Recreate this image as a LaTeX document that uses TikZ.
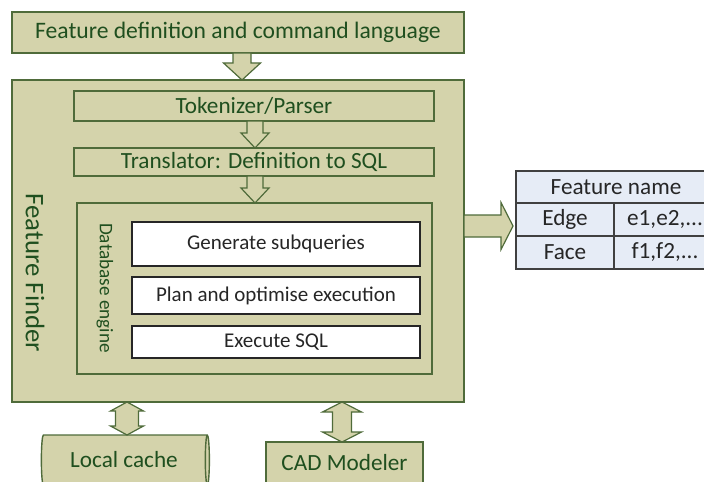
\documentclass[tikz,border=0pt]{standalone}
\usepackage{fontspec}
\setmainfont{Carlito}
\usetikzlibrary{shapes.geometric}
\usetikzlibrary{calc}

\definecolor{olivefill}{HTML}{D4D3AB}
\definecolor{oliveline}{HTML}{4F6B3A}
\definecolor{olivetext}{HTML}{1F4F1F}
\definecolor{tablefill}{HTML}{E6ECF6}
\definecolor{darktext}{HTML}{262626}

% fat arrows: #1 start, #2 end, #3 half shaft, #4 half head, #5 head length
\newcommand{\fatdown}[5]{%
  \draw[fatarrow] let \p1=(#1), \p2=(#2) in
    (\x1-#3,\y1) -- (\x1-#3,\y2+#5) -- (\x1-#4,\y2+#5) -- (\x1,\y2)
    -- (\x1+#4,\y2+#5) -- (\x1+#3,\y2+#5) -- (\x1+#3,\y1) -- cycle;}
\newcommand{\fatboth}[5]{%
  \draw[fatarrow] let \p1=(#1), \p2=(#2) in
    (\x1,\y1) -- (\x1+#4,\y1-#5) -- (\x1+#3,\y1-#5) -- (\x1+#3,\y2+#5)
    -- (\x1+#4,\y2+#5) -- (\x1,\y2) -- (\x1-#4,\y2+#5) -- (\x1-#3,\y2+#5)
    -- (\x1-#3,\y1-#5) -- (\x1-#4,\y1-#5) -- cycle;}
\newcommand{\fatright}[5]{%
  \draw[fatarrow] let \p1=(#1), \p2=(#2) in
    (\x1,\y1-#3) -- (\x2-#5,\y1-#3) -- (\x2-#5,\y1-#4) -- (\x2,\y1)
    -- (\x2-#5,\y1+#4) -- (\x2-#5,\y1+#3) -- (\x1,\y1+#3) -- cycle;}

\begin{document}
\begin{tikzpicture}[x=0.5pt,y=-0.5pt]
\tikzstyle{olivebox}=[rectangle, draw=oliveline, fill=olivefill, line width=0.7pt, text=olivetext, inner sep=0pt, outer sep=0pt, font=\fontsize{11.6}{13}\selectfont]
\tikzstyle{stepbox}=[rectangle, draw=black!85, fill=white, line width=0.6pt, text=darktext, font=\fontsize{10.5}{12}\selectfont, minimum width=144pt, inner sep=0pt, outer sep=0pt]
\tikzstyle{cell}=[rectangle, draw=black!75, fill=tablefill, line width=0.6pt, text=darktext, font=\fontsize{11.6}{13}\selectfont, inner sep=0pt, outer sep=0pt, minimum height=16.5pt]
\tikzstyle{fatarrow}=[draw=oliveline, fill=olivefill, line width=0.6pt, line join=miter]
\useasboundingbox (0,0) rectangle (704,481);
\clip (0,0) rectangle (704,481);

% input and main block
\node[olivebox, minimum width=226pt, minimum height=20.5pt, font=\fontsize{11.8}{13}\selectfont] (lang) at (238,32.5) {Feature definition and command language};
\node[olivebox, minimum width=226pt, minimum height=161pt] (finder) at (238,241) {};
\node[text=olivetext, rotate=-90, font=\fontsize{13.4}{15}\selectfont] (finderlabel) at (35,273) {Feature Finder};

\node[olivebox, minimum width=180pt, minimum height=15pt] (tok) at (254,106) {Tokenizer/Parser};
\node[olivebox, minimum width=180pt, minimum height=14pt] (trans) at (254,162) {Translator: Definition to SQL};

% database engine
\node[olivebox, minimum width=177.5pt, minimum height=85.5pt] (db) at (254.5,288.5) {};
\node[text=olivetext, rotate=-90, font=\fontsize{9.6}{11}\selectfont] (dblabel) at (105,288) {Database engine};
\node[stepbox, minimum height=22pt] (gen) at (276,244) {Generate subqueries};
\node[stepbox, minimum height=18.5pt] (plan) at (276,295.5) {Plan and optimise execution};
\node[stepbox, minimum height=16pt] (exec) at (276,342) {Execute SQL};

% result table
\node[cell, minimum width=100pt, minimum height=16pt] (thead) at (616,187) {Feature name};
\node[cell, minimum width=49pt] (edge) at (565,219.5) {Edge};
\node[cell, minimum width=51pt] (edgeval) at (665,219.5) {e1,e2,...};
\node[cell, minimum width=49pt] (face) at (565,252.5) {Face};
\node[cell, minimum width=51pt] (faceval) at (665,252.5) {f1,f2,...};

% storage
\node[cylinder, shape aspect=0.25, draw=oliveline, fill=olivefill, line width=0.7pt, text=olivetext, inner sep=0pt, outer sep=0pt, minimum width=25pt, minimum height=84pt, font=\fontsize{11.6}{13}\selectfont] (cache) at (124,460) {Local cache};
\node[olivebox, minimum width=78.5pt, minimum height=21pt] (cad) at (344.5,463) {CAD Modeler};

% arrows
\fatdown{[xshift=2pt]lang.south}{finder.north}{4.5pt}{9.25pt}{8.5pt}
\fatdown{[xshift=0.5pt]tok.south}{trans.north}{4pt}{7pt}{7.5pt}
\fatdown{[xshift=0.5pt]trans.south}{db.north}{4pt}{7pt}{7.5pt}
\fatright{[yshift=7.5pt]finder.east}{[xshift=-1.5pt]edge.west}{5.5pt}{11.75pt}{6pt}
\fatboth{[xshift=-55.5pt]finder.south}{cache.north}{5.75pt}{8.25pt}{4.5pt}
\fatboth{[xshift=52pt]finder.south}{cad.north}{4.75pt}{9.75pt}{5pt}
\end{tikzpicture}
\end{document}
